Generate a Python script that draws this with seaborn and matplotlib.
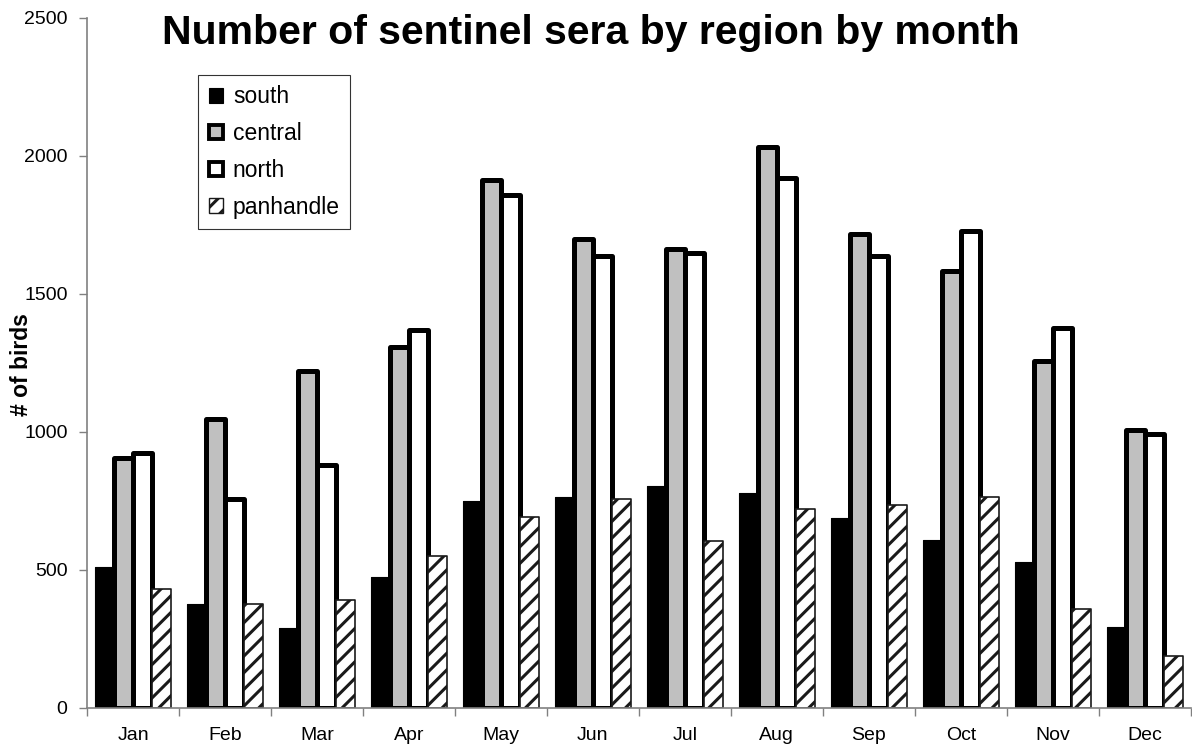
import numpy as np
import pandas as pd
import matplotlib
matplotlib.use("Agg")
import matplotlib.pyplot as plt
import seaborn as sns
from matplotlib.patches import Patch

# Monthly counts of sentinel sera per region
months = ["Jan", "Feb", "Mar", "Apr", "May", "Jun",
          "Jul", "Aug", "Sep", "Oct", "Nov", "Dec"]
regions = ["south", "central", "north", "panhandle"]
south = [512, 377, 289, 476, 748, 766, 805, 778, 690, 610, 527, 292]
central = [905, 1048, 1221, 1307, 1913, 1700, 1662, 2031, 1718, 1582, 1257, 1006]
north = [925, 758, 879, 1371, 1859, 1636, 1649, 1921, 1636, 1728, 1375, 994]
panhandle = [430, 377, 391, 551, 693, 758, 605, 720, 734, 766, 357, 189]
y_ticks = [0, 500, 1000, 1500, 2000, 2500]

df = pd.DataFrame({"month": months, "south": south, "central": central,
                   "north": north, "panhandle": panhandle})
long = df.melt(id_vars="month", var_name="region", value_name="birds")

sns.set_theme(style="white")
plt.rcParams["font.family"] = ["Liberation Sans", "DejaVu Sans"]
plt.rcParams["hatch.linewidth"] = 2.2
plt.rcParams["text.color"] = "black"

fig = plt.figure(figsize=(11.92, 7.46), dpi=100)
ax = fig.add_axes([0.073, 0.051, 0.926, 0.925])

sns.barplot(data=long, x="month", y="birds", hue="region",
            order=months, hue_order=regions, width=0.82,
            palette=["black", "#c0c0c0", "white", "white"],
            saturation=1, errorbar=None, legend=False, ax=ax)

styles = {
    "south": dict(facecolor="black", edgecolor="black", linewidth=0.8),
    "central": dict(facecolor="#c0c0c0", edgecolor="black", linewidth=3.6),
    "north": dict(facecolor="white", edgecolor="black", linewidth=3.6),
    "panhandle": dict(facecolor="white", edgecolor="#1a1a1a", linewidth=1.2,
                      hatch="//"),
}
for container, reg in zip(ax.containers, regions):
    for bar in container:
        bar.set(**styles[reg])
        bar.set_joinstyle("round")

# axes and ticks
ax.set_xlim(-0.5, len(months) - 0.5)
ax.set_ylim(0, 2500)
ax.set_yticks(y_ticks)
ax.set_xticks(np.arange(len(months)))
ax.set_xticklabels(months)
ax.set_xticks(np.arange(-0.5, len(months), 1.0), minor=True)
ax.tick_params(axis="x", which="major", length=0, pad=14, labelsize=14,
               labelcolor="black")
ax.tick_params(axis="x", which="minor", length=6, width=1, color="#808080",
               direction="out", bottom=True)
ax.tick_params(axis="y", length=6, width=1, color="#808080", direction="out",
               left=True, pad=8, labelsize=14, labelcolor="black")
for side in ["top", "right"]:
    ax.spines[side].set_visible(False)
for side in ["left", "bottom"]:
    ax.spines[side].set_color("#808080")
    ax.spines[side].set_linewidth(1.2)
ax.set_xlabel("")
ax.set_ylabel("# of birds", fontsize=16.5, fontweight="bold", color="black")
ax.yaxis.set_label_coords(-0.049, 0.497)

# legend
handles = [
    Patch(facecolor="black", edgecolor="black", linewidth=0.8),
    Patch(facecolor="#c0c0c0", edgecolor="black", linewidth=2.8),
    Patch(facecolor="white", edgecolor="black", linewidth=2.8),
    Patch(facecolor="white", edgecolor="#1a1a1a", linewidth=1.0, hatch="//"),
]
leg = ax.legend(handles, regions, loc="upper left",
                bbox_to_anchor=(0.101, 0.917), borderaxespad=0,
                frameon=True, fancybox=False, edgecolor="black",
                fontsize=16.5, handlelength=0.6, handleheight=0.6,
                handletextpad=0.45, labelspacing=0.6, borderpad=0.45)
leg.get_frame().set_linewidth(0.8)
for txt in leg.get_texts():
    txt.set_color("black")

fig.text(591 / 1192, 1 - 33 / 746, "Number of sentinel sera by region by month",
         ha="center", va="center", fontsize=29.5, fontweight="bold",
         color="black")

fig.savefig("out.png", dpi=100, facecolor="white")
